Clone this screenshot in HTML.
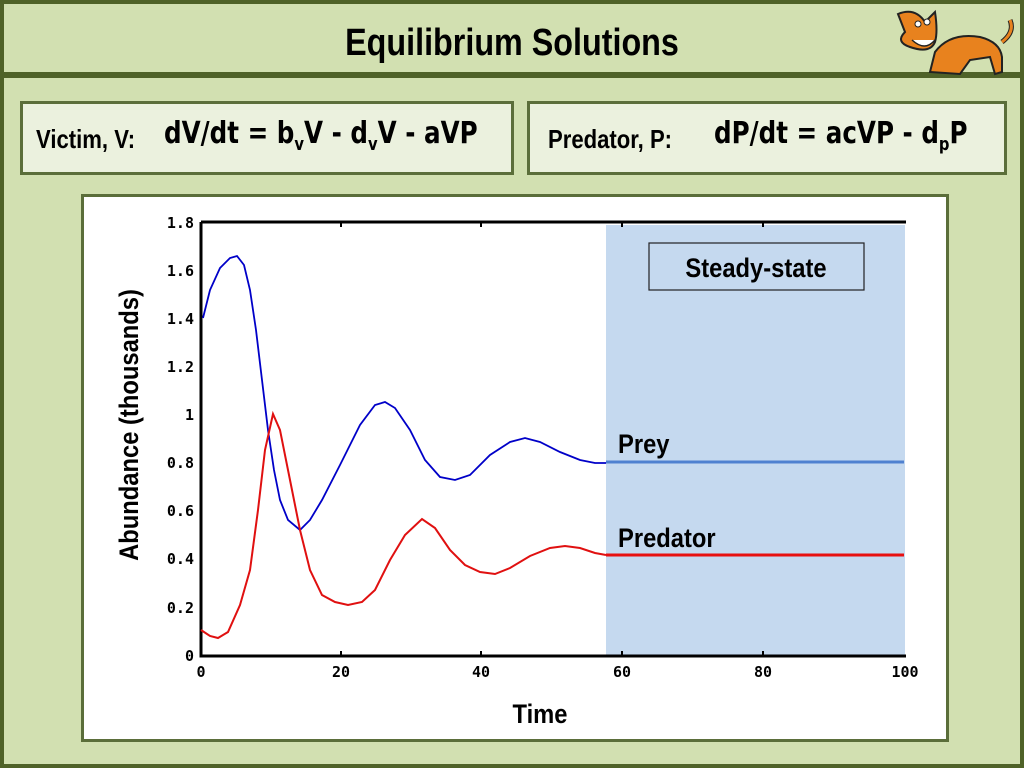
<!DOCTYPE html>
<html><head><meta charset="utf-8"><style>
body{margin:0;width:1024px;height:768px;background:#d2e0b1;font-family:"Liberation Sans",sans-serif;overflow:hidden;position:relative}
.b{position:absolute;box-sizing:border-box}
</style></head><body>
<div class="b" style="left:0;top:0;width:1024px;height:768px;border:4px solid #4f6228"></div>
<div class="b" style="left:0;top:72px;width:1024px;height:6px;background:#4f6228"></div>
<div class="b" style="left:0;top:22px;width:1024px;text-align:center;font-size:38px;font-weight:bold;transform:scaleX(0.85)">Equilibrium Solutions</div>
<div class="b" style="left:20px;top:101px;width:494px;height:74px;background:#ebf1de;border:3px solid #5b6e3a"></div>
<div class="b" style="left:527px;top:101px;width:480px;height:74px;background:#ebf1de;border:3px solid #5b6e3a"></div>
<div class="b" style="left:36px;top:124px;font-size:26px;font-weight:bold;transform:scaleX(0.85);transform-origin:left">Victim, V:</div>
<div class="b" style="left:164px;top:116px;font-size:30px;font-weight:bold;font-family:'DejaVu Sans',sans-serif;transform:scaleX(0.82);transform-origin:left;white-space:nowrap">dV/dt = b<sub style="font-size:18px">v</sub>V - d<sub style="font-size:18px">v</sub>V - aVP</div>
<div class="b" style="left:548px;top:124px;font-size:26px;font-weight:bold;transform:scaleX(0.85);transform-origin:left;white-space:nowrap">Predator, P:</div>
<div class="b" style="left:714px;top:116px;font-size:30px;font-weight:bold;font-family:'DejaVu Sans',sans-serif;transform:scaleX(0.82);transform-origin:left;white-space:nowrap">dP/dt = acVP - d<sub style="font-size:18px">p</sub>P</div>
<div class="b" style="left:81px;top:194px;width:868px;height:548px;background:#fff;border:3px solid #5b6e3a"></div>
<svg class="b" style="left:0;top:0" width="1024" height="768">
<g transform="translate(890,2)">
<path d="M40 70 L45 50 Q60 30 90 35 Q110 40 112 55 L112 70 L105 72 L100 55 L80 58 L70 72 Z" fill="#e8821e" stroke="#222" stroke-width="2"/>
<path d="M112 40 Q125 30 120 18" fill="none" stroke="#222" stroke-width="5"/><path d="M112 40 Q125 30 120 18" fill="none" stroke="#e8821e" stroke-width="3"/>
<path d="M8 12 Q25 5 35 20 L45 10 Q48 30 45 40 Q40 52 20 45 Q5 40 15 30 Z" fill="#e8821e" stroke="#222" stroke-width="2"/>
<path d="M22 38 Q35 50 45 38" fill="#fff" stroke="#222" stroke-width="1.5"/>
<circle cx="28" cy="22" r="3" fill="#fff" stroke="#222"/><circle cx="37" cy="20" r="3" fill="#fff" stroke="#222"/>
</g>
<line x1="238" y1="656" x2="345" y2="656" stroke="#e02020" stroke-width="2"/>
<rect x="606" y="225" width="299" height="430" fill="#c5d9ef"/>
<rect x="649" y="243" width="215" height="47" fill="none" stroke="#222" stroke-width="1.2"/>
<text x="756" y="277" font-size="27" font-weight="bold" text-anchor="middle" transform="translate(756 0) scale(0.88 1) translate(-756 0)">Steady-state</text>
<path d="M201 222H906M201 222V656H906" fill="none" stroke="#000" stroke-width="3"/>
<g stroke="#000" stroke-width="2"><line x1="341" y1="222" x2="341" y2="227"/><line x1="481" y1="222" x2="481" y2="227"/><line x1="622" y1="222" x2="622" y2="227"/><line x1="763" y1="222" x2="763" y2="227"/><line x1="341" y1="656" x2="341" y2="651"/><line x1="481" y1="656" x2="481" y2="651"/><line x1="622" y1="656" x2="622" y2="651"/><line x1="763" y1="656" x2="763" y2="651"/></g>
<g font-family="'DejaVu Sans Mono',monospace" font-size="15" font-weight="bold" text-anchor="end">
<text x="194" y="228">1.8</text><text x="194" y="276">1.6</text><text x="194" y="324">1.4</text><text x="194" y="372">1.2</text><text x="194" y="420">1</text><text x="194" y="468">0.8</text><text x="194" y="516">0.6</text><text x="194" y="564">0.4</text><text x="194" y="613">0.2</text><text x="194" y="661">0</text>
</g>
<g font-family="'DejaVu Sans Mono',monospace" font-size="15" font-weight="bold" text-anchor="middle">
<text x="201" y="677">0</text><text x="341" y="677">20</text><text x="481" y="677">40</text><text x="622" y="677">60</text><text x="763" y="677">80</text><text x="905" y="677">100</text></g>
<polyline fill="none" stroke="#0000c8" stroke-width="1.8" points="203,318 210,290 220,268 230,258 237,256 244,265 250,290 256,330 262,380 268,430 274,470 280,500 288,520 300,530 310,520 322,500 340,465 360,425 375,405 385,402 395,408 410,430 425,460 440,477 455,480 470,475 490,455 510,442 525,438 540,442 560,452 580,460 595,463 606,463"/>
<polyline fill="none" stroke="#e01010" stroke-width="2" points="201,630 210,636 218,638 228,632 240,605 250,570 258,510 265,450 273,414 280,430 290,480 300,530 310,570 322,595 335,602 348,605 362,602 375,590 390,560 405,535 422,519 435,528 450,550 465,565 480,572 495,574 510,568 530,556 550,548 565,546 580,548 595,553 606,555"/>
<line x1="606" y1="462" x2="904" y2="462" stroke="#4f81d0" stroke-width="3"/>
<line x1="606" y1="555" x2="904" y2="555" stroke="#e81010" stroke-width="3"/>
<text x="618" y="453" font-size="27" font-weight="bold" transform="translate(618 0) scale(0.88 1) translate(-618 0)">Prey</text>
<text x="618" y="547" font-size="27" font-weight="bold" transform="translate(618 0) scale(0.88 1) translate(-618 0)">Predator</text>
<text x="540" y="723" font-size="27" font-weight="bold" text-anchor="middle" transform="translate(540 0) scale(0.88 1) translate(-540 0)">Time</text>
<text x="0" y="0" font-size="27" font-weight="bold" text-anchor="middle" transform="translate(138 425) rotate(-90) scale(0.88 1)">Abundance (thousands)</text>
</svg>
</body></html>
